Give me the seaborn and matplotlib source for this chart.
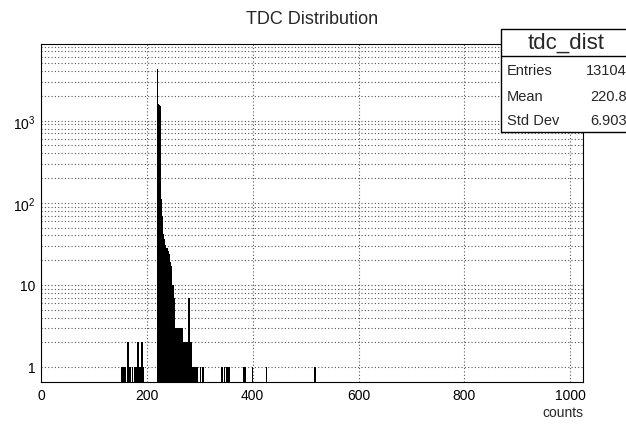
import numpy as np
import pandas as pd
import matplotlib
matplotlib.use("Agg")
import matplotlib.pyplot as plt
import seaborn as sns
from matplotlib.patches import Rectangle
from matplotlib.lines import Line2D
from matplotlib.ticker import FixedLocator, FixedFormatter, NullFormatter

# ---------------- data ----------------
title = "TDC Distribution"
x_label = "counts"
hist_name = "tdc_dist"
stat_labels = ["Entries", "Mean", "Std Dev"]
stat_values = ["13104", "220.8", "6.903"]

# sparse low-side entries
low_bins = [152, 155, 158, 163, 167, 171, 175, 178, 181, 183, 186, 188, 190, 192]
low_counts = [1, 1, 1, 2, 1, 1, 1, 1, 2, 2, 1, 2, 2, 1]

# main peak and tail
peak_bins = [219, 220, 221, 222, 223, 224,
             225, 226, 227, 228, 229, 230, 231, 232, 233, 234, 235, 236, 237, 238,
             239, 240, 241, 242, 243, 244, 245, 246, 247, 248, 249, 250, 251, 252,
             253, 254, 255, 256, 257, 258, 259, 260, 261, 262, 263, 264, 265, 266,
             267, 268, 269, 270, 271, 272, 274, 275, 276, 278, 279, 280, 281, 282,
             283, 285, 287, 289, 291, 293]
peak_counts = [4300, 1600, 1560, 1530, 1500, 1470,
               110, 95, 70, 60, 42, 40, 36, 34, 31, 28, 27, 25, 28, 22,
               26, 20, 24, 19, 17, 15, 17, 10, 9, 10, 7, 6, 7, 3,
               2, 3, 3, 2, 3, 1, 3, 2, 1, 2, 3, 1, 3, 1,
               2, 1, 2, 1, 1, 2, 2, 1, 2, 7, 1, 2, 1, 2,
               1, 1, 1, 1, 1, 1]

# sparse high-side entries
high_bins = [300, 305, 341, 345, 349, 352, 355, 381, 384, 398, 425, 516]
high_counts = [1, 1, 1, 1, 1, 1, 1, 1, 1, 1, 1, 1]

x_ticks = [0, 200, 400, 600, 800, 1000]
y_major = [1, 10, 100, 1000]
y_major_labels = ["1", "10", "$10^{2}$", "$10^{3}$"]

# ---------------- style ----------------
sns.set_style("white")
plt.rcParams["font.family"] = ["Liberation Sans", "DejaVu Sans"]
plt.rcParams["mathtext.fontset"] = "custom"
plt.rcParams["mathtext.rm"] = "Liberation Sans"
plt.rcParams["mathtext.it"] = "Liberation Sans"

W, H = 626, 427
fig = plt.figure(figsize=(W / 100, H / 100), dpi=100)
fig.patch.set_facecolor("white")
ax = fig.add_axes([41 / W, 1 - 383 / H, (583 - 41) / W, (383 - 45) / H])
ax.set_yscale("log")

df = pd.DataFrame({
    "tdc": np.array(low_bins + peak_bins + high_bins, dtype=float) + 0.5,
    "n": np.array(low_counts + peak_counts + high_counts, dtype=float),
})

sns.histplot(data=df, x="tdc", weights="n", binwidth=1, binrange=(0, 1024),
             element="bars", fill=True, color="black", alpha=1.0,
             linewidth=0.5, edgecolor="black", antialiased=False, ax=ax)

ax.set_xlim(0, 1024)
ax.set_ylim(0.656, 8600)
ax.set_xlabel("")
ax.set_ylabel("")

# ticks
ax.xaxis.set_major_locator(FixedLocator(x_ticks))
ax.xaxis.set_minor_locator(FixedLocator([v for v in range(0, 1025, 50) if v % 200 != 0]))
ax.yaxis.set_major_locator(FixedLocator(y_major))
ax.yaxis.set_major_formatter(FixedFormatter(y_major_labels))
minors = [m * d for d in [1, 10, 100, 1000] for m in range(2, 10)]
ax.yaxis.set_minor_locator(FixedLocator(minors))
ax.yaxis.set_minor_formatter(NullFormatter())

ax.tick_params(axis="both", which="both", direction="in", top=False, right=False,
               colors="black", width=0.8)
ax.tick_params(axis="both", which="major", labelsize=10)
ax.yaxis.set_tick_params(which="major", length=11.5, pad=4)
ax.yaxis.set_tick_params(which="minor", length=5.8)
ax.xaxis.set_tick_params(which="major", length=6.5, pad=4)
ax.xaxis.set_tick_params(which="minor", length=3.3)

# grid
ax.set_axisbelow(True)
ax.grid(True, axis="x", which="major", linestyle=(0, (1, 2)), color="#555555", linewidth=0.8)
ax.grid(True, axis="y", which="both", linestyle=(0, (1, 2)), color="#555555", linewidth=0.8)

for s in ax.spines.values():
    s.set_color("black")
    s.set_linewidth(0.8)
    s.set_visible(True)

# title and x label
fig.text(312 / W, 1 - 19 / H, title, ha="center", va="center", fontsize=13)
fig.text(583 / W, 1 - 413 / H, x_label, ha="right", va="center", fontsize=10)

# stats box
bx0, by_top, by_bot, by_sep = 501, 30, 133, 57
box = Rectangle((bx0 / W, 1 - by_bot / H), (640 - bx0) / W, (by_bot - by_top) / H,
                transform=fig.transFigure, facecolor="white", edgecolor="black",
                linewidth=1.0, clip_on=False, zorder=5)
fig.add_artist(box)
fig.add_artist(Line2D([bx0 / W, 1.0], [1 - by_sep / H, 1 - by_sep / H],
                      transform=fig.transFigure, color="black", linewidth=1.0, zorder=6))
fig.text(566 / W, 1 - 43 / H, hist_name, ha="center", va="center", fontsize=16, zorder=7)
rows_y = [71, 97, 121]
for lab, val, yy in zip(stat_labels, stat_values, rows_y):
    fig.text(507 / W, 1 - yy / H, lab, ha="left", va="center", fontsize=10.5, zorder=7)
    fig.text(627 / W, 1 - yy / H, val, ha="right", va="center", fontsize=10.5, zorder=7)

fig.savefig("out.png", dpi=100, facecolor="white")
